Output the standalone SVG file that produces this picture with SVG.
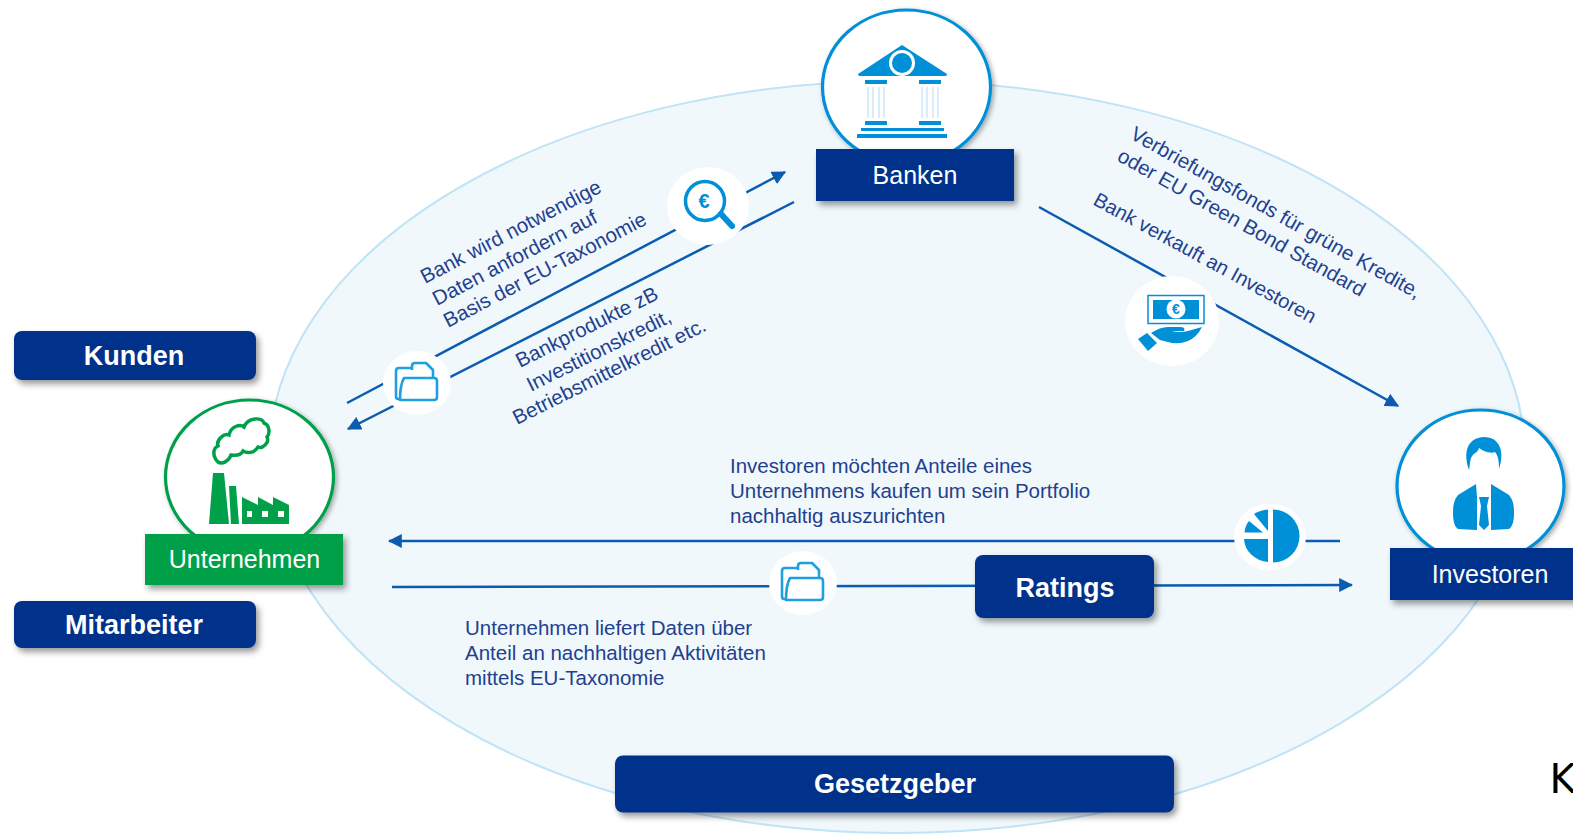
<svg xmlns="http://www.w3.org/2000/svg" xmlns:xlink="http://www.w3.org/1999/xlink" width="1573" height="834" viewBox="0 0 1573 834">
<style>
text{font-family:"Liberation Sans",Arial,sans-serif}
.lbl{fill:#23408e;font-size:20.5px}
.box{fill:#00308c;filter:url(#sh)}
.w{fill:#fff;text-anchor:middle}
.b{font-weight:bold;font-size:27px}
.r{font-size:25px}
.ln{fill:none;stroke:#0b5cb0;stroke-width:2.5}
.circ{fill:#fff;stroke-width:3.2;filter:url(#sh2)}
.ic{fill:#0090d8}
.hole{fill:#fff}
</style>
<defs>
<filter id="sh" x="-10%" y="-20%" width="120%" height="150%"><feDropShadow dx="3" dy="4" stdDeviation="3" flood-color="#000" flood-opacity=".4"/></filter>
<filter id="sh2" x="-10%" y="-10%" width="125%" height="125%"><feDropShadow dx="2" dy="2" stdDeviation="2.500" flood-color="#000" flood-opacity=".35"/></filter>
<marker id="ah" viewBox="0 0 12 12" refX="11" refY="6" markerWidth="14" markerHeight="14" markerUnits="userSpaceOnUse" orient="auto"><path d="M0 0L12 6L0 12z" fill="#0b5cb0"/></marker>
<g id="folder" fill="none" stroke="#1ea0e0" stroke-width="2.6" stroke-linejoin="round">
<path d="M412 370V366Q412 363 415 363H426L433 370V377"/>
<path d="M400 399H398Q396 399 396 396V371Q396 368 399 368H412"/>
<path d="M404 378H434Q437 378 437 381V397Q437 400 434 400H400Q400 385 404 378Z"/>
</g>
</defs>
<rect width="1573" height="834" fill="#fff"/>
<ellipse id="field" cx="897" cy="457" rx="628" ry="376" fill="#f0f8fc" stroke="#c0e3f5" stroke-width="2"/>
<g id="connectors">
<path class="ln" d="M347 403L785 172" marker-end="url(#ah)"/>
<path class="ln" d="M794 202L348 429" marker-end="url(#ah)"/>
<path class="ln" d="M1039 207L1398 406" marker-end="url(#ah)"/>
<path class="ln" d="M1340 541H389" marker-end="url(#ah)"/>
<path class="ln" d="M392 587L1352 585" marker-end="url(#ah)"/>
</g>
<g id="labels">
<g class="lbl">
<text transform="translate(425 284) rotate(-27.5)">Bank wird notwendige</text>
<text transform="translate(437 306) rotate(-27.5)">Daten anfordern auf</text>
<text transform="translate(448 328) rotate(-27.5)">Basis der EU-Taxonomie</text>
<text transform="translate(520 368) rotate(-26.5)">Bankprodukte zB</text>
<text transform="translate(531 392) rotate(-26.5)">Investitionskredit,</text>
<text transform="translate(517 425) rotate(-26.5)">Betriebsmittelkredit etc.</text>
<text transform="translate(1129 138) rotate(29.3)">Verbriefungsfonds für grüne Kredite,</text>
<text transform="translate(1116 160) rotate(29.3)">oder EU Green Bond Standard</text>
<text transform="translate(1092 204) rotate(28.6)" font-size="20.1" style="font-size:20.1px">Bank verkauft an Investoren</text>
<text x="730" y="473">Investoren möchten Anteile eines</text>
<text x="730" y="498">Unternehmens kaufen um sein Portfolio</text>
<text x="730" y="523">nachhaltig auszurichten</text>
<text x="465" y="635">Unternehmen liefert Daten über</text>
<text x="465" y="660">Anteil an nachhaltigen Aktivitäten</text>
<text x="465" y="685">mittels EU-Taxonomie</text>
</g>
</g>
<g id="icon-search">
<ellipse cx="708" cy="206" rx="41" ry="39" fill="#fff"/>
<circle cx="705" cy="201" r="19.5" fill="none" stroke="#0090d8" stroke-width="3.5"/>
<path d="M721 214L732 226" stroke="#0090d8" stroke-width="6" stroke-linecap="round"/>
<text x="704" y="208" text-anchor="middle" font-size="20" font-weight="bold" fill="#0090d8">€</text>
</g>
<g id="icon-folder-1">
<ellipse cx="417" cy="383" rx="34" ry="32" fill="#fff"/>
<use xlink:href="#folder"/>
</g>
<g id="icon-folder-2">
<ellipse cx="803" cy="583" rx="34" ry="32" fill="#fff"/>
<use xlink:href="#folder" transform="translate(386 200)"/>
</g>
<g id="icon-money">
<ellipse cx="1172" cy="321" rx="47" ry="45" fill="#fff"/>
<rect x="1148" y="295.500" width="56" height="28" fill="none" stroke="#0090d8" stroke-width="1.500"/>
<rect class="ic" x="1153" y="300" width="46" height="19"/>
<circle class="hole" cx="1176" cy="309" r="9.500"/>
<text x="1176" y="314" text-anchor="middle" font-size="14" font-weight="bold" fill="#0090d8">€</text>
<path class="ic" d="M1151 333Q1160 327 1168 327H1180Q1186 327 1184 331H1172Q1180 333 1188 331L1202 327Q1197 337 1188 341Q1178 345 1168 342L1160 340Z"/>
<path class="ic" d="M1138 339L1148 351L1157 343L1147 333Z"/>
</g>
<g id="icon-pie">
<ellipse cx="1270" cy="537" rx="36" ry="33.500" fill="#fff"/>
<path class="ic" d="M1273 509.500A26.500 26.500 0 0 1 1273 562.500Z"/>
<path class="ic" d="M1268 539V562A26.500 24 0 0 1 1244 539Z"/>
<path class="ic" d="M1268 509.500V531L1254 514Q1260 510 1268 509.500Z"/>
<path class="ic" d="M1244.500 532.500Q1245 526 1249 521L1263 532.500Z"/>
</g>
<g id="node-gesetzgeber"><rect class="box" x="615" y="755.500" width="559" height="57" rx="8"/><text class="w b" x="895" y="793">Gesetzgeber</text></g>
<g id="node-ratings"><rect class="box" x="975" y="555" width="179" height="63" rx="8"/><text class="w b" x="1065" y="597" font-size="28">Ratings</text></g>
<g id="node-kunden"><rect class="box" x="14" y="331" width="242" height="49" rx="8"/><text class="w b" x="134" y="365">Kunden</text></g>
<g id="node-mitarbeiter"><rect class="box" x="14" y="601" width="242" height="47" rx="8"/><text class="w b" x="134" y="634">Mitarbeiter</text></g>
<g id="node-banken">
<ellipse class="circ" cx="906.500" cy="87" rx="84" ry="77" stroke="#0090d8"/>
<path class="ic" d="M902 45L947 74Q947 76 945 76H860Q858 76 858 74Z"/>
<circle cx="902" cy="63" r="13" fill="#fff"/><circle class="ic" cx="902" cy="63" r="10"/>
<rect class="ic" x="865" y="80" width="22" height="4"/><rect class="ic" x="919" y="80" width="22" height="4"/>
<path d="M868 87V118M873 87V118M879 87V118M884 87V118M922 87V118M927 87V118M933 87V118M938 87V118" stroke="#b5dbf2" stroke-width="1"/>
<rect class="ic" x="865" y="121" width="22" height="4"/><rect class="ic" x="919" y="121" width="22" height="4"/>
<rect class="ic" x="861" y="128" width="83" height="3"/><rect class="ic" x="857" y="134" width="90" height="4"/>
<rect class="box" x="816" y="149" width="198" height="52"/>
<text class="w r" x="915" y="184">Banken</text>
</g>
<g id="node-unternehmen">
<ellipse class="circ" cx="249.500" cy="477" rx="84" ry="77" stroke="#00a04a"/>
<path d="M218 462C212 456 213 448 218 446C216 440 224 433 229 435C231 426 240 424 244 427C248 417 262 417 264 423C270 425 270 434 267 437C270 443 262 449 258 447C254 454 246 453 243 451C240 457 232 455 231 455C229 461 222 465 218 462Z" fill="#fff" stroke="#00a04a" stroke-width="3.500"/>
<g fill="#00a04a">
<path d="M213 473H224L229 524H209Z"/>
<path d="M229 486H236L239 524H231Z"/>
<path fill-rule="evenodd" d="M242 524V497L258 505V497L273 505V497L289 505V524ZM247 511V517H252V511ZM262 511V517H268V511ZM278 511V517H284V511Z"/>
</g>
<rect class="box" x="145" y="534" width="198" height="51" style="fill:#00a04a"/>
<text class="w r" x="244.500" y="568">Unternehmen</text>
</g>
<g id="node-investoren">
<ellipse class="circ" cx="1480.500" cy="486" rx="83.500" ry="76" stroke="#0090d8"/>
<path class="ic" d="M1469 470C1463 452 1467 438 1484 437C1500 437 1505 452 1499 469C1499 460 1498 456 1495 452C1490 454 1483 451 1479 448C1478 453 1474 452 1471 458C1470 461 1470 465 1469 470Z"/>
<path class="ic" d="M1476 484L1458 495C1454 500 1453 505 1453 513C1453 520 1454 526 1458 529L1477 530L1477 497Z"/>
<path class="ic" d="M1491 484L1509 495C1513 500 1514 505 1514 513C1514 520 1513 526 1509 529L1491 530L1491 497Z"/>
<path class="ic" d="M1479 497H1489L1487 506L1489 525L1484 530L1479 525L1481 506Z"/>
<rect class="box" x="1390" y="548" width="190" height="52"/>
<text class="w r" x="1490" y="583">Investoren</text>
</g>
<text x="1549.500" y="793" font-size="40" fill="#000" style="font-family:'DejaVu Sans',sans-serif">K</text>
</svg>
